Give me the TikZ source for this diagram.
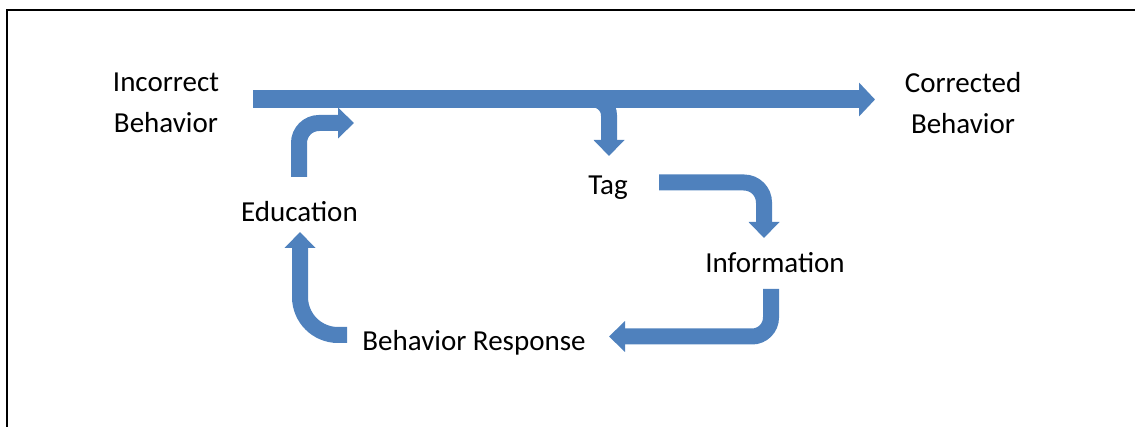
\documentclass[tikz,border=0pt]{standalone}
\usepackage{fontspec}
\setmainfont{Carlito}
\usetikzlibrary{arrows.meta}
\definecolor{arrowblue}{HTML}{4F81BD}
\begin{document}
\begin{tikzpicture}[x=1pt,y=-1pt,
  lbl/.style={anchor=base,inner sep=0pt,font=\fontsize{29}{41}\selectfont,align=center},
  blockarrow/.style={draw=arrowblue,line width=16pt,-{Triangle[length=16pt,width=30pt]}},
  mainarrow/.style={draw=arrowblue,line width=18pt,-{Triangle[length=16pt,width=33pt]}},
  frameline/.style={line width=2pt,black}]
\useasboundingbox (0,0) rectangle (1135,427);
% frame
\coordinate (fb) at (7,427);
\coordinate (fc) at (7,10);
\coordinate (fr) at (1135,10);
\draw[frameline] (fb) -- (fc) -- (fr);
% labels (anchor = baseline of the last line)
\node[lbl] (inc) at (166,132.5) {Incorrect\\Behavior};
\node[lbl] (cor) at (963,134) {Corrected\\Behavior};
\node[lbl] (tag) at (608,194.5) {Tag};
\node[lbl] (edu) at (299.5,221.5) {Education};
\node[lbl] (inf) at (775,272.5) {Information};
\node[lbl] (bre) at (474,350.5) {Behavior Response};
% arrow end points
\coordinate (mS) at (253,99.5);
\coordinate (mE) at (875,99.5);
\coordinate (bS) at (570,99.5);
\coordinate (bE) at (609,156);
\coordinate (eS) at (299,177);
\coordinate (eE) at (354,123);
\coordinate (tS) at (659,182.5);
\coordinate (tE) at (764,238);
\coordinate (iS) at (771,289);
\coordinate (iE) at (609,336.5);
\coordinate (rS) at (347,335);
\coordinate (rE) at (300,232);
% arrows
\draw[blockarrow,rounded corners=16pt] (bS) -| (bE);
\draw[mainarrow] (mS) -- (mE);
\draw[blockarrow,rounded corners=20pt] (eS) |- (eE);
\draw[blockarrow,rounded corners=20pt] (tS) -| (tE);
\draw[blockarrow,rounded corners=19pt] (iS) |- (iE);
\draw[blockarrow,rounded corners=38pt] (rS) -| (rE);
\end{tikzpicture}
\end{document}
